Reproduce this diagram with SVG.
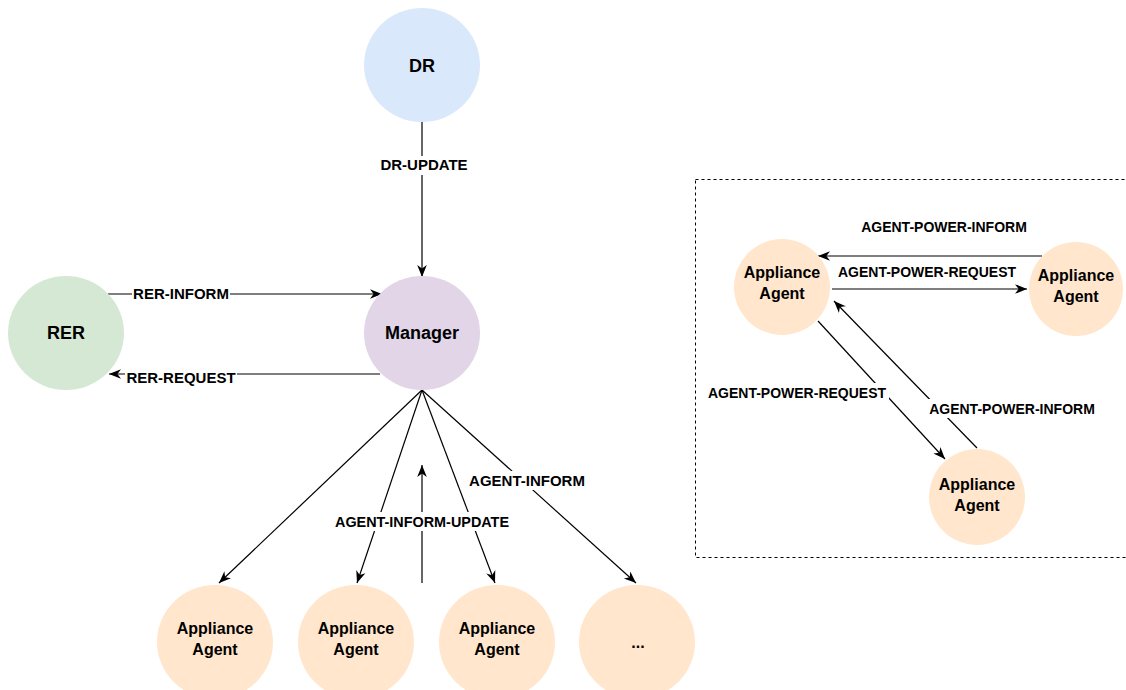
<svg xmlns="http://www.w3.org/2000/svg" width="1126" height="690" viewBox="0 0 1126 690">
<style>
.lbl{font-family:"Liberation Sans",Arial,sans-serif;font-size:14px;font-weight:bold;fill:#000;text-anchor:middle}
.lbl2{font-family:"Liberation Sans",Arial,sans-serif;font-size:15px;font-weight:bold;fill:#000;text-anchor:middle}
.nt{font-family:"Liberation Sans",Arial,sans-serif;font-size:16px;font-weight:bold;fill:#000;text-anchor:middle}
.big{font-family:"Liberation Sans",Arial,sans-serif;font-size:18px;font-weight:bold;fill:#000;text-anchor:middle}
.ln{stroke:#000;stroke-width:1.2;fill:none}
.agent{fill:#ffe6cc}
.bg{fill:#fff}
</style>
<defs>
<marker id="arr" viewBox="0 0 10 10" refX="10" refY="5" markerWidth="12" markerHeight="12" orient="auto" markerUnits="userSpaceOnUse">
<path d="M0,1 L10,5 L0,9 L3,5 z" fill="#000"/>
</marker>
</defs>
<rect width="1126" height="690" fill="#fff"/>
<rect x="695.5" y="179.5" width="440" height="378" fill="none" stroke="#000" stroke-width="1" stroke-dasharray="3,3"/>
<g id="connectors">
<line class="ln" x1="422" y1="122" x2="422" y2="277" marker-end="url(#arr)"/>
<line class="ln" x1="108" y1="294" x2="382" y2="294" marker-end="url(#arr)"/>
<line class="ln" x1="380" y1="374" x2="109" y2="374" marker-end="url(#arr)"/>
<line class="ln" x1="422" y1="390" x2="219" y2="583" marker-end="url(#arr)"/>
<line class="ln" x1="422" y1="390" x2="357" y2="583" marker-end="url(#arr)"/>
<line class="ln" x1="422" y1="390" x2="495" y2="583" marker-end="url(#arr)"/>
<line class="ln" x1="422" y1="390" x2="636" y2="583" marker-end="url(#arr)"/>
<line class="ln" x1="422" y1="583" x2="422" y2="465" marker-end="url(#arr)"/>
<line class="ln" x1="1042" y1="256" x2="818" y2="256" marker-end="url(#arr)"/>
<line class="ln" x1="832" y1="289" x2="1027" y2="289" marker-end="url(#arr)"/>
<line class="ln" x1="818" y1="321" x2="945" y2="459" marker-end="url(#arr)"/>
<line class="ln" x1="977" y1="448" x2="834" y2="301" marker-end="url(#arr)"/>
<rect class="bg" x="378" y="156" width="92" height="19"/>
<text class="lbl2" x="424" y="170">DR-UPDATE</text>
<rect class="bg" x="132" y="286" width="98" height="17"/>
<text class="lbl2" x="181" y="299">RER-INFORM</text>
<rect class="bg" x="125" y="370" width="112" height="16"/>
<text class="lbl2" x="181" y="383">RER-REQUEST</text>
<rect class="bg" x="467" y="471" width="120" height="19"/>
<text class="lbl2" x="527" y="486">AGENT-INFORM</text>
<rect class="bg" x="333" y="512" width="179" height="19"/>
<text class="lbl" x="422" y="527" style="font-size:14.4px">AGENT-INFORM-UPDATE</text>
<text class="lbl" x="944" y="232">AGENT-POWER-INFORM</text>
<text class="lbl" x="927" y="277">AGENT-POWER-REQUEST</text>
<rect class="bg" x="705" y="383" width="184" height="19"/>
<text class="lbl" x="797" y="398">AGENT-POWER-REQUEST</text>
<rect class="bg" x="925" y="399" width="174" height="19"/>
<text class="lbl" x="1012" y="414">AGENT-POWER-INFORM</text>
</g>
<g id="dr"><ellipse cx="422" cy="65" rx="58" ry="57" fill="#dae8fc"/><text class="big" x="422" y="72">DR</text></g>
<g id="manager"><ellipse cx="422" cy="333" rx="58" ry="57" fill="#e1d5e7"/><text class="big" x="422" y="339">Manager</text></g>
<g id="rer"><ellipse cx="66" cy="333" rx="58" ry="57" fill="#d5e8d4"/><text class="big" x="66" y="339">RER</text></g>
<g id="agent1"><ellipse class="agent" cx="215" cy="642" rx="58" ry="57"/><text class="nt" x="215" y="634">Appliance</text><text class="nt" x="215" y="655">Agent</text></g>
<g id="agent2"><ellipse class="agent" cx="356" cy="642" rx="58" ry="57"/><text class="nt" x="356" y="634">Appliance</text><text class="nt" x="356" y="655">Agent</text></g>
<g id="agent3"><ellipse class="agent" cx="497" cy="642" rx="58" ry="57"/><text class="nt" x="497" y="634">Appliance</text><text class="nt" x="497" y="655">Agent</text></g>
<g id="agent4"><ellipse class="agent" cx="637" cy="642" rx="58" ry="57"/><text class="nt" x="638" y="648">...</text></g>
<g id="agentA"><circle class="agent" cx="782" cy="287" r="48"/><text class="nt" x="782" y="278">Appliance</text><text class="nt" x="782" y="299">Agent</text></g>
<g id="agentB"><circle class="agent" cx="1076" cy="289" r="47"/><text class="nt" x="1076" y="281">Appliance</text><text class="nt" x="1076" y="302">Agent</text></g>
<g id="agentC"><circle class="agent" cx="977" cy="497" r="48"/><text class="nt" x="977" y="490">Appliance</text><text class="nt" x="977" y="511">Agent</text></g>
</svg>
